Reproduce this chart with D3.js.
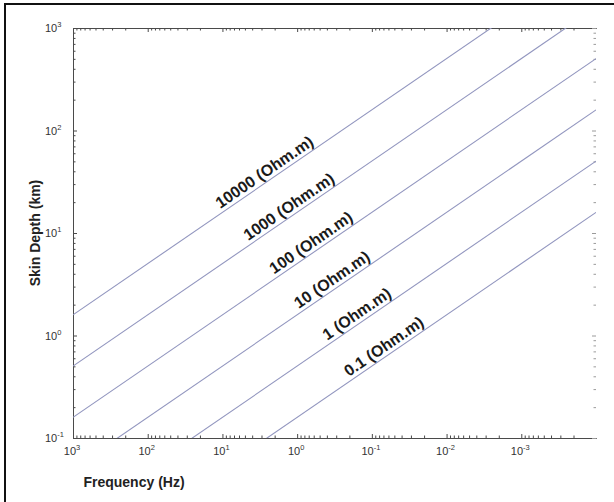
<!DOCTYPE html>
<html>
<head>
<meta charset="utf-8">
<script src="https://cdn.jsdelivr.net/npm/d3@7"></script>
<style>
  body { margin: 0; background: #fff; }
  svg { display: block; font-family: "Liberation Sans", Arial, sans-serif; }
</style>
</head>
<body>
<div id="chart"></div>
<script>
// DATA
const resistivities = [10000, 1000, 100, 10, 1, 0.1];
const curveLabels = ["10000 (Ohm.m)", "1000 (Ohm.m)", "100 (Ohm.m)", "10 (Ohm.m)", "1 (Ohm.m)", "0.1 (Ohm.m)"];
const freqEnds = [1e3, 1e-4];                                // Hz, left and right end of each line
const depthAtHighF = [1.59, 0.503, 0.159, 0.0503, 0.0159, 0.00503]; // km at 1e3 Hz
const depthAtLowF = [5030, 1590, 503, 159, 50.3, 15.9];      // km at 1e-4 Hz
const labelFreq = [10, 4.2, 1.9, 0.89, 0.37, 0.19];          // where each label sits along its line
const xTickExp = [3, 2, 1, 0, -1, -2, -3];
const yTickExp = [-1, 0, 1, 2, 3];

const width = 614, height = 502;
const margin = {top: 28, right: 18, bottom: 64, left: 73};

const svg = d3.select('#chart').append('svg')
    .attr('width', width)
    .attr('height', height);

// frame (only left and top edges show in the picture)
svg.append('line').attr('x1', 5).attr('x2', 5).attr('y1', 3).attr('y2', height)
    .attr('stroke', '#111').attr('stroke-width', 2);
svg.append('line').attr('x1', 4).attr('x2', width).attr('y1', 4).attr('y2', 4)
    .attr('stroke', '#111').attr('stroke-width', 2);

//SCALES
const x = d3.scaleLog().domain([1e3, 1e-4]).range([margin.left, width - margin.right]);
const y = d3.scaleLog().domain([0.1, 1000]).range([height - margin.bottom, margin.top]);

const majorX = xTickExp.map(e => Math.pow(10, e));
const majorY = yTickExp.map(e => Math.pow(10, e));
const minorX = [], minorY = [];
for (let e = -4; e < 3; e++) for (let k = 2; k <= 9; k++) minorX.push(k * Math.pow(10, e));
for (let e = -1; e < 3; e++) for (let k = 2; k <= 9; k++) minorY.push(k * Math.pow(10, e));

const axisColor = '#4a4a4a';

function styleAxis(g, color) {
    g.select('.domain').attr('stroke', color);
    g.selectAll('.tick line').attr('stroke', color);
    g.selectAll('.tick text').remove();
}

const yBottom = y.range()[0], yTop = y.range()[1];

// bottom axis
svg.append('g').attr('transform', `translate(0,${yBottom})`)
    .call(d3.axisBottom(x).tickValues(majorX).tickSizeInner(-4).tickSizeOuter(0).tickFormat(''))
    .call(g => styleAxis(g, axisColor));
svg.append('g').attr('transform', `translate(0,${yBottom})`)
    .call(d3.axisBottom(x).tickValues(minorX).tickSizeInner(-2.5).tickSizeOuter(0).tickFormat(''))
    .call(g => styleAxis(g, axisColor));

// top axis
svg.append('g').attr('transform', `translate(0,${yTop})`)
    .call(d3.axisTop(x).tickValues(majorX).tickSizeInner(-4).tickSizeOuter(0).tickFormat(''))
    .call(g => styleAxis(g, axisColor));
svg.append('g').attr('transform', `translate(0,${yTop})`)
    .call(d3.axisTop(x).tickValues(minorX).tickSizeInner(-2.5).tickSizeOuter(0).tickFormat(''))
    .call(g => styleAxis(g, axisColor));

// left axis
svg.append('g').attr('transform', `translate(${margin.left},0)`)
    .call(d3.axisLeft(y).tickValues(majorY).tickSizeInner(-4).tickSizeOuter(0).tickFormat(''))
    .call(g => styleAxis(g, axisColor));
svg.append('g').attr('transform', `translate(${margin.left},0)`)
    .call(d3.axisLeft(y).tickValues(minorY).tickSizeInner(-2.5).tickSizeOuter(0).tickFormat(''))
    .call(g => styleAxis(g, axisColor));

// right side: faint ticks, no line
const xr = x.range()[1];
svg.append('g').attr('transform', `translate(${xr},0)`)
    .call(d3.axisRight(y).tickValues(majorY).tickSizeInner(-4).tickSizeOuter(0).tickFormat(''))
    .call(g => { styleAxis(g, '#9a9a9a'); g.select('.domain').remove(); });
svg.append('g').attr('transform', `translate(${xr},0)`)
    .call(d3.axisRight(y).tickValues(minorY).tickSizeInner(-2.5).tickSizeOuter(0).tickFormat(''))
    .call(g => { styleAxis(g, '#9a9a9a'); g.select('.domain').remove(); });

// TICK LABELS (10^n)
function powLabel(sel, e) {
    sel.append('tspan').text('10');
    sel.append('tspan').attr('font-size', 7.5).attr('dy', -5).text(e);
}

xTickExp.forEach(e => {
    const t = svg.append('text')
        .attr('x', x(Math.pow(10, e)) - 1)
        .attr('y', yBottom + 17)
        .attr('text-anchor', 'middle')
        .attr('font-size', 11)
        .attr('fill', '#333');
    powLabel(t, e);
});

yTickExp.forEach(e => {
    const t = svg.append('text')
        .attr('x', 45)
        .attr('y', y(Math.pow(10, e)) + 4)
        .attr('font-size', 11)
        .attr('fill', '#333');
    powLabel(t, e);
});

// AXIS TITLES
svg.append('text')
    .attr('x', 134).attr('y', 487)
    .attr('text-anchor', 'middle')
    .attr('font-size', 14).attr('font-weight', 'bold').attr('fill', '#222')
    .text('Frequency (Hz)');

svg.append('text')
    .attr('transform', `translate(40,233) rotate(-90)`)
    .attr('text-anchor', 'middle')
    .attr('font-size', 14).attr('font-weight', 'bold').attr('fill', '#222')
    .text('Skin Depth (km)');

// LINES
svg.append('clipPath').attr('id', 'plotClip')
  .append('rect')
    .attr('x', margin.left).attr('y', margin.top)
    .attr('width', xr - margin.left).attr('height', yBottom - margin.top);

const lineData = resistivities.map((r, i) => ({
    rho: r,
    label: curveLabels[i],
    pts: [[freqEnds[0], depthAtHighF[i]], [freqEnds[1], depthAtLowF[i]]],
    lf: labelFreq[i]
}));

const lineGen = d3.line().x(d => x(d[0])).y(d => y(d[1]));

svg.append('g').attr('clip-path', 'url(#plotClip)')
  .selectAll('path').data(lineData).join('path')
    .attr('d', d => lineGen(d.pts))
    .attr('fill', 'none')
    .attr('stroke', '#9296bf')
    .attr('stroke-width', 1.1);

// LABELS along the lines
lineData.forEach(d => {
    const [fa, da] = d.pts[0], [fb, db] = d.pts[1];
    const t = (Math.log10(d.lf) - Math.log10(fa)) / (Math.log10(fb) - Math.log10(fa));
    const depth = Math.pow(10, Math.log10(da) + t * (Math.log10(db) - Math.log10(da)));
    const px = x(d.lf), py = y(depth);
    const ang = Math.atan2(y(db) - y(da), x(fb) - x(fa)) * 180 / Math.PI;
    svg.append('text')
        .attr('transform', `translate(${px},${py}) rotate(${ang})`)
        .attr('y', -4)
        .attr('font-size', 16).attr('font-weight', 'bold').attr('fill', '#1a1a1a')
        .text(d.label);
});
</script>
</body>
</html>
